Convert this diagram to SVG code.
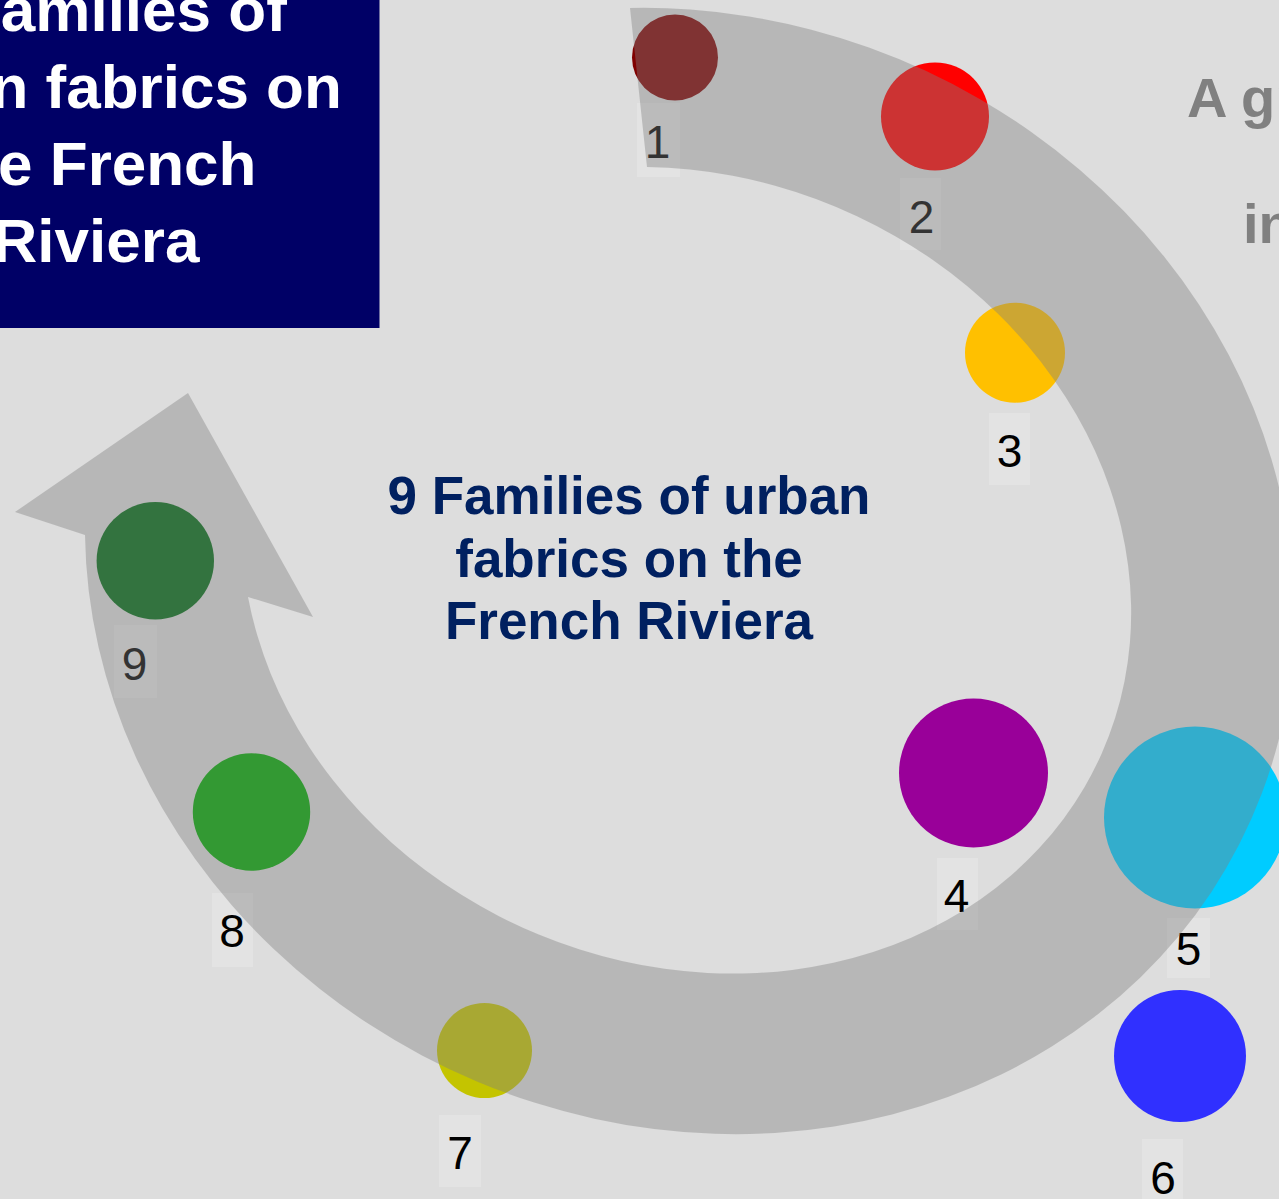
<svg xmlns="http://www.w3.org/2000/svg" width="1279" height="1199" viewBox="0 0 1279 1199">
<style>
.t{font-family:"Liberation Sans",Arial,sans-serif;font-weight:bold}
.lbl{font-family:"Liberation Sans",Arial,sans-serif;font-size:46px;fill:#000;text-anchor:middle}
.box{fill:#e3e3e3}
.band{fill:#808080;fill-opacity:0.4}
</style>
<rect x="0" y="0" width="1279" height="1199" fill="#dddddd"/>
<g id="title">
<rect x="-10" y="-10" width="389.5" height="338" fill="#000066"/>
<text class="t" x="99" y="31" font-size="62" fill="#ffffff" text-anchor="middle">9 Families of</text>
<text class="t" x="99" y="108" font-size="62" fill="#ffffff" text-anchor="middle">urban fabrics on</text>
<text class="t" x="98" y="185" font-size="62" fill="#ffffff" text-anchor="middle">the French</text>
<text class="t" x="96" y="262" font-size="62" fill="#ffffff" text-anchor="middle">Riviera</text>
</g>
<g id="side-text">
<text class="t" x="1187" y="117" font-size="56" fill="#808080">A gr</text>
<text class="t" x="1243" y="243" font-size="56" fill="#808080">in</text>
</g>
<g id="center-title">
<text class="t" x="629" y="514" font-size="53" fill="#002060" text-anchor="middle">9 Families of urban</text>
<text class="t" x="629" y="577" font-size="53" fill="#002060" text-anchor="middle">fabrics on the</text>
<text class="t" x="629" y="639" font-size="53" fill="#002060" text-anchor="middle">French Riviera</text>
</g>
<g id="node1"><circle cx="675" cy="57.5" r="43" fill="#800000"/><rect class="box" x="637" y="103" width="43" height="74"/><text class="lbl" x="657.5" y="158">1</text></g>
<g id="node2"><circle cx="935" cy="116.5" r="54" fill="#ff0000"/><rect class="box" x="900" y="178" width="41" height="72"/><text class="lbl" x="921.5" y="233">2</text></g>
<g id="node3"><circle cx="1015" cy="352.7" r="50" fill="#ffc000"/><rect class="box" x="989" y="413" width="41" height="72"/><text class="lbl" x="1009.5" y="467">3</text></g>
<g id="node4"><circle cx="973.5" cy="773" r="74.5" fill="#990099"/><rect class="box" x="937" y="858" width="41" height="72"/><text class="lbl" x="956.5" y="912">4</text></g>
<g id="node5"><circle cx="1195" cy="817.5" r="91" fill="#00ccff"/><rect class="box" x="1167" y="918" width="43" height="60"/><text class="lbl" x="1188.5" y="965">5</text></g>
<g id="node6"><circle cx="1180" cy="1056" r="66" fill="#3030ff"/><rect class="box" x="1142" y="1139" width="41" height="62"/><text class="lbl" x="1163" y="1194">6</text></g>
<g id="node7"><circle cx="484.5" cy="1050.5" r="47.5" fill="#c4c400"/><rect class="box" x="439" y="1115" width="42" height="72"/><text class="lbl" x="460" y="1169">7</text></g>
<g id="node8"><circle cx="251.5" cy="812" r="58.7" fill="#00aa00"/><rect class="box" x="212" y="893" width="41" height="74"/><text class="lbl" x="232" y="947">8</text></g>
<g id="node9"><circle cx="155.3" cy="560.7" r="58.7" fill="#006b14"/><rect class="box" x="114" y="625" width="43" height="73"/><text class="lbl" x="134.5" y="680">9</text></g>
<g id="connectors">
<path class="band" d="M630,8 A614,553 23.5 1 1 85,535 L15,512 L188,393 L313,617 L248,597 A454,393 23.5 1 0 647,167 Z"/>
</g>
</svg>
